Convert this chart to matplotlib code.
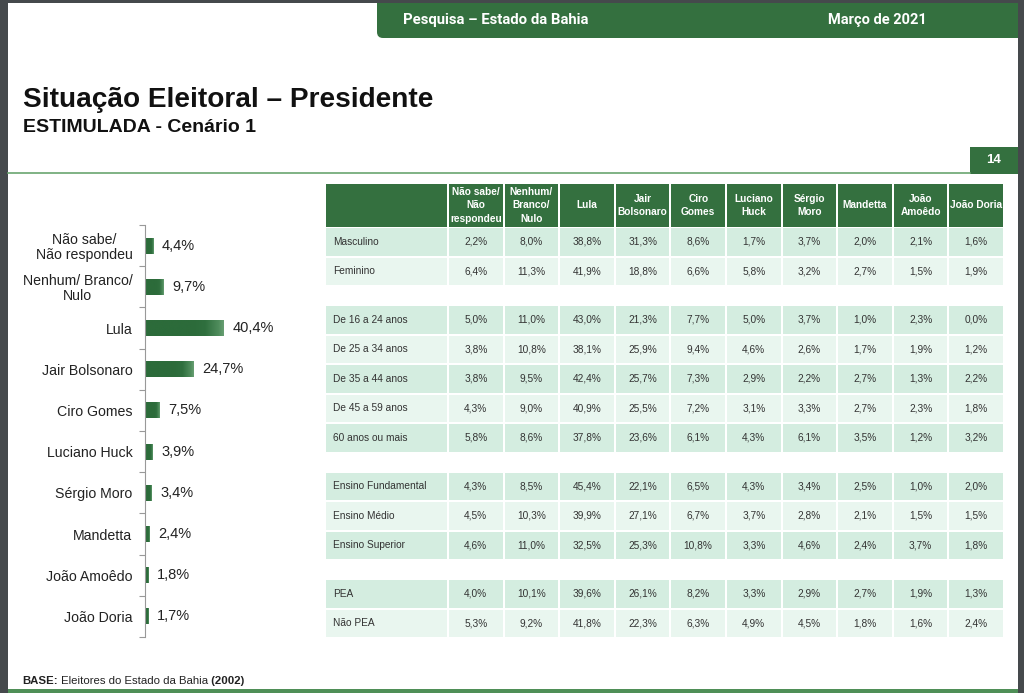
import numpy as np
import matplotlib.pyplot as plt
from matplotlib.patches import Rectangle, FancyBboxPatch
from matplotlib.colors import LinearSegmentedColormap

plt.rcParams['font.family'] = ['Liberation Sans', 'DejaVu Sans']

# dados do gráfico de barras (total)
candidatos = ['Não sabe/\nNão respondeu', 'Nenhum/ Branco/\nNulo', 'Lula', 'Jair Bolsonaro',
              'Ciro Gomes', 'Luciano Huck', 'Sérgio Moro', 'Mandetta', 'João Amoêdo', 'João Doria']
total = [4.4, 9.7, 40.4, 24.7, 7.5, 3.9, 3.4, 2.4, 1.8, 1.7]

# dados da tabela
colunas = ['Não sabe/\nNão\nrespondeu', 'Nenhum/\nBranco/\nNulo', 'Lula', 'Jair\nBolsonaro',
           'Ciro\nGomes', 'Luciano\nHuck', 'Sérgio\nMoro', 'Mandetta', 'João\nAmoêdo', 'João Doria']

sexo = ['Masculino', 'Feminino']
sexo_vals = [[2.2, 8.0, 38.8, 31.3, 8.6, 1.7, 3.7, 2.0, 2.1, 1.6],
             [6.4, 11.3, 41.9, 18.8, 6.6, 5.8, 3.2, 2.7, 1.5, 1.9]]
idade = ['De 16 a 24 anos', 'De 25 a 34 anos', 'De 35 a 44 anos', 'De 45 a 59 anos', '60 anos ou mais']
idade_vals = [[5.0, 11.0, 43.0, 21.3, 7.7, 5.0, 3.7, 1.0, 2.3, 0.0],
              [3.8, 10.8, 38.1, 25.9, 9.4, 4.6, 2.6, 1.7, 1.9, 1.2],
              [3.8, 9.5, 42.4, 25.7, 7.3, 2.9, 2.2, 2.7, 1.3, 2.2],
              [4.3, 9.0, 40.9, 25.5, 7.2, 3.1, 3.3, 2.7, 2.3, 1.8],
              [5.8, 8.6, 37.8, 23.6, 6.1, 4.3, 6.1, 3.5, 1.2, 3.2]]
escolaridade = ['Ensino Fundamental', 'Ensino Médio', 'Ensino Superior']
escolaridade_vals = [[4.3, 8.5, 45.4, 22.1, 6.5, 4.3, 3.4, 2.5, 1.0, 2.0],
                     [4.5, 10.3, 39.9, 27.1, 6.7, 3.7, 2.8, 2.1, 1.5, 1.5],
                     [4.6, 11.0, 32.5, 25.3, 10.8, 3.3, 4.6, 2.4, 3.7, 1.8]]
pea = ['PEA', 'Não PEA']
pea_vals = [[4.0, 10.1, 39.6, 26.1, 8.2, 3.3, 2.9, 2.7, 1.9, 1.3],
            [5.3, 9.2, 41.8, 22.3, 6.3, 4.9, 4.5, 1.8, 1.6, 2.4]]

grupos = [(sexo, sexo_vals), (idade, idade_vals), (escolaridade, escolaridade_vals), (pea, pea_vals)]


def pct(v):
    return f'{v:.1f}%'.replace('.', ',')


W, H = 1024, 693
VERDE = '#34703f'
CINZA = '#45494c'

fig = plt.figure(figsize=(W / 100, H / 100), dpi=100)
bg = fig.add_axes([0, 0, 1, 1])
bg.set_xlim(0, W)
bg.set_ylim(H, 0)
bg.axis('off')

# moldura da página
bg.add_patch(FancyBboxPatch((377, -10), 660, 48, boxstyle='round,pad=0,rounding_size=6',
                            fc=VERDE, ec='none'))
bg.add_patch(Rectangle((0, 0), 8, H, fc=CINZA, ec='none'))
bg.add_patch(Rectangle((0, 0), W, 3, fc=CINZA, ec='none'))
bg.add_patch(Rectangle((1018, 0), 6, H, fc=CINZA, ec='none'))
bg.add_patch(Rectangle((8, 689), 1010, 4, fc='#4f8f57', ec='none'))

bg.text(403, 20, 'Pesquisa – Estado da Bahia', color='white', fontsize=10.7, fontweight='bold',
        va='center', ha='left', family=['Roboto', 'DejaVu Sans'])
bg.text(877, 20, 'Março de 2021', color='white', fontsize=10.5, fontweight='bold',
        va='center', ha='center', family=['Roboto', 'DejaVu Sans'])

bg.text(23, 100, 'Situação Eleitoral – Presidente', fontsize=20.2, fontweight='bold',
        va='center', ha='left', color='#111')
bg.text(23, 128, 'ESTIMULADA - Cenário 1', fontsize=14, fontweight='bold',
        va='center', ha='left', color='#111')

bg.plot([8, 970], [173, 173], color='#6aa56f', lw=1.2)
bg.add_patch(Rectangle((970, 147), 48, 27, fc=VERDE, ec='none'))
bg.text(994, 160, '14', color='white', fontsize=9.5, fontweight='bold', va='center', ha='center')

# tabela
x_lab0, x_lab1 = 326, 449
col_w = (1005 - x_lab1) / len(colunas)
head_top, head_bot = 184, 227
row_h, gap = 29.5, 19
claro, escuro = '#e9f6ef', '#d4ede0'

bg.add_patch(Rectangle((x_lab0, head_top), x_lab1 - x_lab0 - 2, head_bot - head_top,
                       fc=VERDE, ec='none'))
for j, c in enumerate(colunas):
    x = x_lab1 + j * col_w
    bg.add_patch(Rectangle((x, head_top), col_w - 2, head_bot - head_top, fc=VERDE, ec='none'))
    bg.text(x + col_w / 2 - 1, (head_top + head_bot) / 2, c, color='white', fontsize=7.3,
            fontweight='bold', ha='center', va='center', linespacing=1.4)

y = head_bot + 1
for nomes, vals in grupos:
    for i, (nome, linha) in enumerate(zip(nomes, vals)):
        cor = escuro if i % 2 == 0 else claro
        yc = y + row_h / 2
        bg.add_patch(Rectangle((x_lab0, y), x_lab1 - x_lab0 - 2, row_h - 2, fc=cor, ec='none'))
        bg.text(x_lab0 + 7, yc - 1, nome, fontsize=7.3, color='#333', ha='left', va='center')
        for j, v in enumerate(linha):
            x = x_lab1 + j * col_w
            bg.add_patch(Rectangle((x, y), col_w - 2, row_h - 2, fc=cor, ec='none'))
            bg.text(x + col_w / 2 - 1, yc - 1, pct(v), fontsize=7.3, color='#333',
                    ha='center', va='center')
        y += row_h
    y += gap

# rodapé
t1 = bg.text(22, 681, 'BASE:', fontsize=8.2, fontweight='bold', color='#222', va='center')
t2 = bg.annotate(' Eleitores do Estado da Bahia', xy=(1, 0), xycoords=t1, va='bottom',
                 fontsize=8.2, color='#222')
bg.annotate(' (2002)', xy=(1, 0), xycoords=t2, va='bottom', fontsize=8.2,
            fontweight='bold', color='#222')

# gráfico de barras
px_pct = 79 / 40.4
left, right, top, bot = 145, 300, 225, 637
ax = fig.add_axes([left / W, (H - bot) / H, (right - left) / W, (bot - top) / H])
ax.patch.set_alpha(0)
pos = np.arange(len(candidatos))
barras = ax.barh(pos, total, height=0.39, color='#2f6f3e')

# degradê claro na ponta de cada barra
grad = LinearSegmentedColormap.from_list('g', ['#2c6b3a', '#2f6f3e', '#4f8c5c', '#8cbb95'])
faixa = np.linspace(0, 1, 256)
faixa = np.clip((faixa - 0.6) / 0.4, 0, 1)[None, :]
for b in barras:
    x0, y0 = b.get_x(), b.get_y()
    im = ax.imshow(faixa, cmap=grad, aspect='auto', vmin=0, vmax=1.25,
                   extent=(x0, x0 + b.get_width(), y0 + b.get_height(), y0), zorder=2)
    im.set_clip_path(b)

for p, v in zip(pos, total):
    ax.text(v + 8.5 / px_pct, p, pct(v), fontsize=10.5, color='#222', va='center', ha='left')
ax.set_xlim(0, (right - left) / px_pct)
ax.set_ylim(len(candidatos) - 0.5, -0.5)
ax.set_yticks(pos)
ax.set_yticklabels(candidatos, fontsize=10.2, color='#222', linespacing=1.1)
for lbl in ax.get_yticklabels():
    lbl.set_multialignment('center')
ax.set_yticks(np.arange(-0.5, len(candidatos), 1), minor=True)
ax.tick_params(axis='y', which='major', length=0, pad=9)
ax.tick_params(axis='y', which='minor', length=4, color='#999', width=0.8)
ax.set_xticks([])
for s in ['top', 'right', 'bottom']:
    ax.spines[s].set_visible(False)
ax.spines['left'].set_color('#999')
ax.spines['left'].set_linewidth(0.8)

fig.savefig('out.png', dpi=100)
